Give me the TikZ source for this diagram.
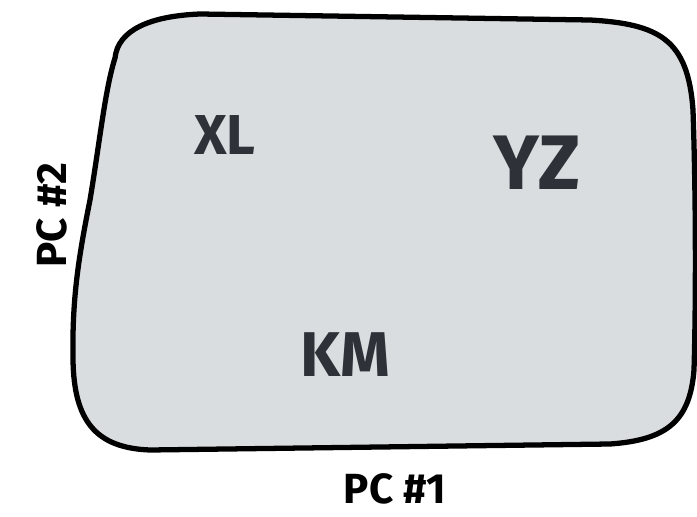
\documentclass[tikz,border=0pt]{standalone}
\usepackage{fontspec}
\setsansfont{Fira Sans}
\usepackage{tikz}
\usetikzlibrary{positioning}
\definecolor{ink}{HTML}{2E3238}
\definecolor{plane}{HTML}{DADDE0}

\begin{document}
\begin{tikzpicture}[
    x=0.02cm, y=-0.02cm,
    label/.style={text=ink,font=\sffamily\bfseries,inner sep=0pt},
    axis/.style={text=black,font=\sffamily\bfseries\fontsize{24}{24}\selectfont,inner sep=0pt}
  ]
    \useasboundingbox (0,0) rectangle (697,517);
    % the score plane
    \draw[fill=plane,line width=3pt,line join=round]
      (115,58) .. controls (118,30) and (150,16) .. (200,14)
      -- (590,20) .. controls (660,24) and (688,40) .. (693,110)
      .. controls (696,200) and (696,300) .. (694,370)
      .. controls (690,420) and (668,440) .. (610,444)
      -- (150,450) .. controls (95,448) and (74,420) .. (73,360)
      .. controls (72,300) and (78,260) .. (90,200)
      .. controls (100,140) and (105,90) .. (115,58) -- cycle;

    \node[label,font=\sffamily\bfseries\fontsize{32}{32}\selectfont] (xl) at (225,135) {XL};
    \node[label,font=\sffamily\bfseries\fontsize{44}{44}\selectfont] (yz) at (537,163) {YZ};
    \node[label,font=\sffamily\bfseries\fontsize{36}{36}\selectfont] (km) at (345,355) {KM};

    \node[axis] (pc1) at (395,489) {PC \#1};
    \node[axis,rotate=90] (pc2) at (52,215) {PC \#2};
  \end{tikzpicture}
\end{document}
